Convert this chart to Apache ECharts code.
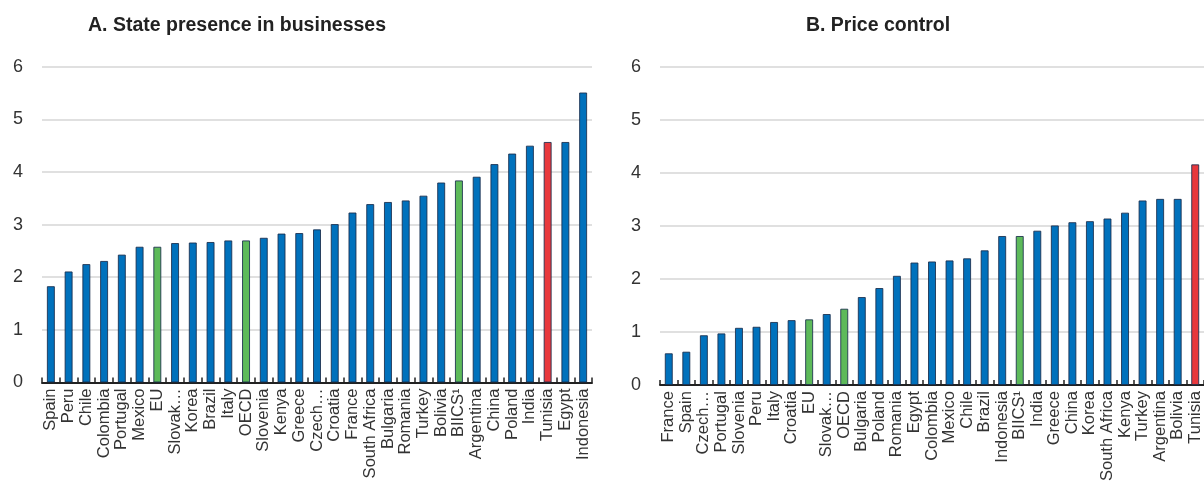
<!DOCTYPE html>
<html>
<head>
<meta charset="utf-8">
<script src="https://cdn.jsdelivr.net/npm/echarts@6/dist/echarts.min.js"></script>
<style>
  html, body { margin: 0; padding: 0; background: #fff; }
  #chart { width: 1204px; height: 484px; }
</style>
</head>
<body>
<div id="chart"></div>
<script>
// Panel A: state presence in businesses (index 0-6)
const categoriesA = ['Spain', 'Peru', 'Chile', 'Colombia', 'Portugal', 'Mexico', 'EU', 'Slovak…', 'Korea', 'Brazil',
  'Italy', 'OECD', 'Slovenia', 'Kenya', 'Greece', 'Czech…', 'Croatia', 'France', 'South Africa', 'Bulgaria',
  'Romania', 'Turkey', 'Bolivia', 'BIICS¹', 'Argentina', 'China', 'Poland', 'India', 'Tunisia', 'Egypt', 'Indonesia'];
const valuesA = [1.83, 2.11, 2.25, 2.31, 2.43, 2.58, 2.58, 2.65, 2.66, 2.67,
  2.70, 2.70, 2.75, 2.83, 2.84, 2.91, 3.01, 3.23, 3.39, 3.43,
  3.46, 3.55, 3.80, 3.84, 3.91, 4.15, 4.35, 4.50, 4.57, 4.57, 5.51];

// Panel B: price control (index 0-6)
const categoriesB = ['France', 'Spain', 'Czech…', 'Portugal', 'Slovenia', 'Peru', 'Italy', 'Croatia', 'EU', 'Slovak…',
  'OECD', 'Bulgaria', 'Poland', 'Romania', 'Egypt', 'Colombia', 'Mexico', 'Chile', 'Brazil', 'Indonesia',
  'BIICS¹', 'India', 'Greece', 'China', 'Korea', 'South Africa', 'Kenya', 'Turkey', 'Argentina', 'Bolivia', 'Tunisia'];
const valuesB = [0.60, 0.63, 0.94, 0.975, 1.08, 1.10, 1.19, 1.225, 1.24, 1.34,
  1.44, 1.66, 1.83, 2.06, 2.31, 2.33, 2.35, 2.39, 2.54, 2.81,
  2.81, 2.91, 3.01, 3.07, 3.09, 3.14, 3.25, 3.48, 3.51, 3.51, 4.16];

const titles = ['A. State presence in businesses', 'B. Price control'];
const aggregates = ['EU', 'OECD', 'BIICS¹'];
const highlighted = ['Tunisia'];

const FONT = '"Liberation Sans", Arial, Helvetica, sans-serif';
const BLUE = '#0071BC', GREEN = '#5DBA5A', RED = '#E8383D';

function barColor(name) {
  if (highlighted.includes(name)) return RED;
  if (aggregates.includes(name)) return GREEN;
  return BLUE;
}

function barData(cats, vals) {
  return vals.map((v, i) => ({ value: v, itemStyle: { color: barColor(cats[i]) } }));
}

function xAxis(idx, cats) {
  return {
    type: 'category', gridIndex: idx, data: cats,
    axisLine: { lineStyle: { color: '#222', width: 2 } },
    axisTick: { show: true, inside: true, length: 5, interval: 0, lineStyle: { color: '#222', width: 1.5 } },
    axisLabel: { rotate: 90, interval: 0, margin: 6, color: '#333', fontSize: 16.5, fontFamily: FONT }
  };
}

function yAxis(idx) {
  return {
    type: 'value', gridIndex: idx, min: 0, max: 6, interval: 1,
    axisLine: { show: false }, axisTick: { show: false },
    axisLabel: { color: '#333', fontSize: 18, fontFamily: FONT, margin: 19 },
    splitLine: { lineStyle: { color: '#d6d6d6', width: 1.5 } }
  };
}

function series(idx, cats, vals) {
  return {
    type: 'bar', xAxisIndex: idx, yAxisIndex: idx,
    data: barData(cats, vals), barWidth: 8,
    itemStyle: { borderColor: 'rgba(25,45,75,0.85)', borderWidth: 1 },
    animation: false
  };
}

const chart = echarts.init(document.getElementById('chart'), null, { renderer: 'canvas' });
chart.setOption({
  backgroundColor: '#fff',
  animation: false,
  grid: [
    { left: 42, top: 66.7, width: 550, height: 315.8 },
    { left: 660, top: 66.7, width: 546, height: 320.6 }
  ],
  xAxis: [xAxis(0, categoriesA), xAxis(1, categoriesB)],
  yAxis: [yAxis(0), yAxis(1)],
  series: [series(0, categoriesA, valuesA), series(1, categoriesB, valuesB)],
  graphic: [
    { type: 'text', x: 237, y: 26, style: { text: titles[0], textAlign: 'center', textVerticalAlign: 'middle',
      font: 'bold 19.5px ' + FONT, fill: '#222' } },
    { type: 'text', x: 878, y: 26, style: { text: titles[1], textAlign: 'center', textVerticalAlign: 'middle',
      font: 'bold 19.5px ' + FONT, fill: '#222' } }
  ]
});
</script>
</body>
</html>
